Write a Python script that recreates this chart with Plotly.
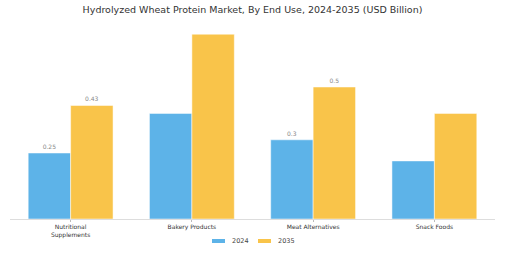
import plotly.graph_objects as go

categories = ["Nutritional<br>Supplements", "Bakery Products", "Meat Alternatives", "Snack Foods"]
series_names = ["2024", "2035"]
values_2024 = [0.25, 0.40, 0.30, 0.22]
values_2035 = [0.43, 0.70, 0.50, 0.40]
labels_2024 = ["0.25", "", "0.3", ""]
labels_2035 = ["0.43", "", "0.5", ""]
colors = ["#5DB3E8", "#F9C44A"]

fig = go.Figure()
for name, vals, labs, col in zip(series_names, [values_2024, values_2035],
                                 [labels_2024, labels_2035], colors):
    fig.add_trace(go.Bar(x=categories, y=vals, name=name, marker_color=col,
                         marker_line=dict(color="white", width=0.5),
                         text=labs, textposition="outside",
                         textfont=dict(size=6, color="#888888"), cliponaxis=False))

# custom legend (swatch + label) below the plot, in paper coordinates
L, R, T, B = 10, 10, 21, 34
W, H = 505, 253
pw, ph = W - L - R, H - T - B
def px(x):
    return (x - L) / pw
def py(y):
    return (H - B - y) / ph

legend_x = [212, 258]
for name, col, lx in zip(series_names, colors, legend_x):
    fig.add_shape(type="rect", xref="paper", yref="paper",
                  x0=px(lx), x1=px(lx + 13), y0=py(243), y1=py(239),
                  fillcolor=col, line=dict(width=0))
    fig.add_annotation(xref="paper", yref="paper", x=px(lx + 18), y=py(241),
                       text=name, showarrow=False, xanchor="left", yanchor="middle",
                       font=dict(size=6.5, color="#444444"))

fig.update_layout(
    width=W, height=H,
    margin=dict(l=L, r=R, t=T, b=B, autoexpand=False),
    barmode="group", bargap=0.3, bargroupgap=0,
    paper_bgcolor="white", plot_bgcolor="white",
    font=dict(family="DejaVu Sans", color="#333333"),
    title=dict(text="Hydrolyzed Wheat Protein Market, By End Use, 2024-2035 (USD Billion)",
               x=0.5, xanchor="center", y=0.96, yanchor="middle",
               font=dict(size=9.5, color="#333333")),
    showlegend=False,
    xaxis=dict(showline=True, linecolor="#DDDDDD", linewidth=1, ticks="outside",
               ticklen=2, tickcolor="#BBBBBB", tickfont=dict(size=6, color="#333333"),
               automargin=False),
    yaxis=dict(range=[0, 0.75], visible=False, showgrid=False, automargin=False),
)

fig.write_html("out.html")
